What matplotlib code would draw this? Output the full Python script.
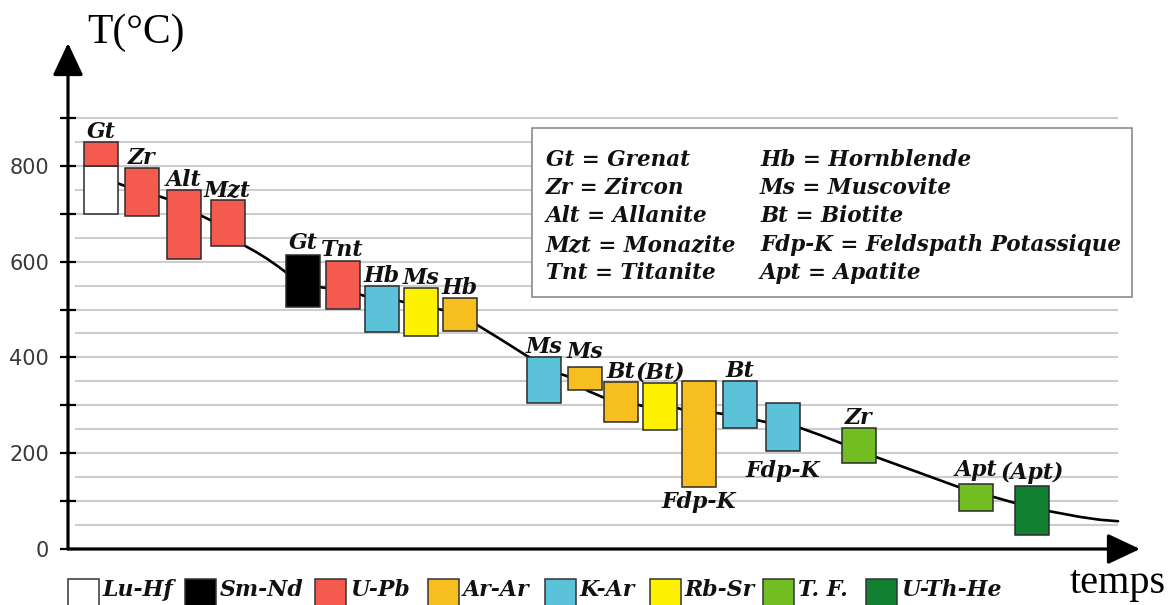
import matplotlib
matplotlib.use("Agg")
import matplotlib.pyplot as plt
from matplotlib.patches import Rectangle, FancyArrowPatch

# ---------------- data ----------------
methods = ["Lu-Hf", "Sm-Nd", "U-Pb", "Ar-Ar", "K-Ar", "Rb-Sr", "T. F.", "U-Th-He"]
method_colors = ["#ffffff", "#000000", "#f45a4e", "#f6bf1f", "#5cc2da", "#fff200", "#72bd22", "#118030"]

box_labels = ["", "Gt", "Zr", "Alt", "Mzt", "Gt", "Tnt", "Hb", "Ms", "Hb", "Ms", "Ms",
              "Bt", "(Bt)", "Fdp-K", "Bt", "Fdp-K", "Zr", "Apt", "(Apt)"]
box_method = ["Lu-Hf", "U-Pb", "U-Pb", "U-Pb", "U-Pb", "Sm-Nd", "U-Pb", "K-Ar", "Rb-Sr", "Ar-Ar",
              "K-Ar", "Ar-Ar", "Ar-Ar", "Rb-Sr", "Ar-Ar", "K-Ar", "K-Ar", "T. F.", "T. F.", "U-Th-He"]
box_time = [33, 33, 73.5, 116, 159.5, 235, 274.5, 314, 352.5, 392,
            476, 516.5, 553, 592, 630.5, 672, 715, 790.5, 908, 964]
box_tmin = [700, 800, 695, 605, 633, 505, 501, 453, 445, 455,
            305, 332, 265, 248, 129, 253, 205, 180, 79, 29]
box_tmax = [800, 850, 795, 749, 729, 614, 601, 549, 545, 524,
            401, 380, 349, 347, 351, 351, 305, 253, 136, 132]

curve_time = [40, 49, 57, 90, 99, 132, 142, 177, 189, 199, 210, 219, 251, 258, 291, 297, 331, 335,
              370, 375, 409, 434, 459, 493, 499, 520, 537, 570, 574, 610, 613, 648, 655,
              689, 698, 732, 752, 773, 808, 849, 891, 925, 947, 981, 1012, 1032, 1050]
curve_temp = [766, 764, 758, 737, 731, 697, 687, 633, 619, 606, 590, 576, 547, 545, 532, 528, 518, 516,
              501, 499, 468, 436, 403, 365, 361, 330, 315, 301, 299, 294, 292, 284, 282,
              269, 265, 253, 238, 221, 192, 161, 129, 109, 96, 79, 67, 61, 58]

yticks = [0, 100, 200, 300, 400, 500, 600, 700, 800, 900]
ytick_labels = ["0", "", "200", "", "400", "", "600", "", "800", ""]
grid_levels = list(range(50, 901, 50))

key_left = ["Gt = Grenat", "Zr = Zircon", "Alt = Allanite", "Mzt = Monazite", "Tnt = Titanite"]
key_right = ["Hb = Hornblende", "Ms = Muscovite", "Bt = Biotite",
             "Fdp-K = Feldspath Potassique", "Apt = Apatite"]

# ---------------- layout / style ----------------
W, H = 1176, 605
PX_PER_DEG = 0.479
AX_X0, AX_Y0 = 68, 549          # pixel position of the origin
BOX_W = 34
LABEL_FONT = dict(family="DejaVu Serif", weight="bold", style="italic", size=15.8, color="#111111")
KEY_FONT = dict(LABEL_FONT, size=15.5)
label_pos = ["above"] * len(box_labels)
label_pos[14] = "below"
label_pos[16] = "below"
label_gap = [4] * len(box_labels)
label_gap[11] = 9
label_gap[5] = 6
label_gap[6] = 5
label_gap[16] = 9
label_gap[18] = 8
label_gap[19] = 7

fig = plt.figure(figsize=(W / 100, H / 100), dpi=100)
ax = fig.add_axes([AX_X0 / W, (H - AX_Y0) / H, (W - AX_X0) / W, AX_Y0 / H])
ax.set_xlim(0, W - AX_X0)
ax.set_ylim(0, AX_Y0 / PX_PER_DEG)
for s in ax.spines.values():
    s.set_visible(False)
ax.set_xticks([])
ax.set_yticks(yticks)
ax.set_yticklabels(ytick_labels, family="DejaVu Sans", fontsize=15, color="#3a3a3a")
ax.tick_params(axis="y", direction="inout", length=11, width=1.6, color="black", pad=8)
ax.patch.set_alpha(0)

# grid lines
ax.hlines(grid_levels, 7, 1050, colors="#cdcdcd", lw=1.5, zorder=1)

# axes arrows
arrow_kw = dict(arrowstyle="-|>,head_length=1.0,head_width=0.47", mutation_scale=20,
                color="black", lw=2.3, shrinkA=0, shrinkB=0, clip_on=False, zorder=6)
ax.add_patch(FancyArrowPatch((0, 0), (0, (AX_Y0 - 43) / PX_PER_DEG), **arrow_kw))
ax.add_patch(FancyArrowPatch((0, 0), (1140 - AX_X0, 0), **arrow_kw))

# cooling curve
ax.plot(curve_time, curve_temp, color="black", lw=1.9, zorder=2, solid_capstyle="round",
        solid_joinstyle="round")

# boxes
color_of = dict(zip(methods, method_colors))
for i, (lab, m, t, lo, hi) in enumerate(zip(box_labels, box_method, box_time, box_tmin, box_tmax)):
    ax.add_patch(Rectangle((t - BOX_W / 2, lo), BOX_W, hi - lo, facecolor=color_of[m],
                           edgecolor="#2b2b2b", lw=1.1, zorder=3))
    if lab:
        if label_pos[i] == "above":
            ax.annotate(lab, (t, hi), xytext=(0, label_gap[i] * 0.72), textcoords="offset points",
                        ha="center", va="baseline", zorder=5, **LABEL_FONT)
        else:
            ax.annotate(lab, (t, lo), xytext=(0, -label_gap[i] * 0.72), textcoords="offset points",
                        ha="center", va="top", zorder=5, **LABEL_FONT)


def fx(x):
    return x / W


def fy(y):
    return 1 - y / H


# key box
fig.add_artist(Rectangle((fx(532), fy(297)), (1132 - 532) / W, (297 - 128) / H,
                         transform=fig.transFigure, facecolor="white", edgecolor="#8a8a8a",
                         lw=1.2, zorder=4))
for r, (a, b) in enumerate(zip(key_left, key_right)):
    yb = 166 + r * 28.2
    fig.text(fx(546), fy(yb), a, va="baseline", ha="left", zorder=5, **KEY_FONT)
    fig.text(fx(760), fy(yb), b, va="baseline", ha="left", zorder=5, **KEY_FONT)

# bottom legend
swatch_x = [68, 185, 315, 428, 545, 650, 763, 866]
for m, c, sx in zip(methods, method_colors, swatch_x):
    fig.add_artist(Rectangle((fx(sx), fy(612)), 31 / W, (612 - 579) / H,
                             transform=fig.transFigure, facecolor=c, edgecolor="#333333", lw=1.1))
    fig.text(fx(sx + 35), fy(596), m, va="baseline", ha="left", **LABEL_FONT)

# axis titles
fig.text(fx(87), fy(43), "T(°C)", family="Liberation Serif", fontsize=30, va="baseline", ha="left")
fig.text(fx(1070), fy(593), "temps", family="Liberation Serif", fontsize=29, va="baseline", ha="left")

fig.savefig("out.png", dpi=100)
